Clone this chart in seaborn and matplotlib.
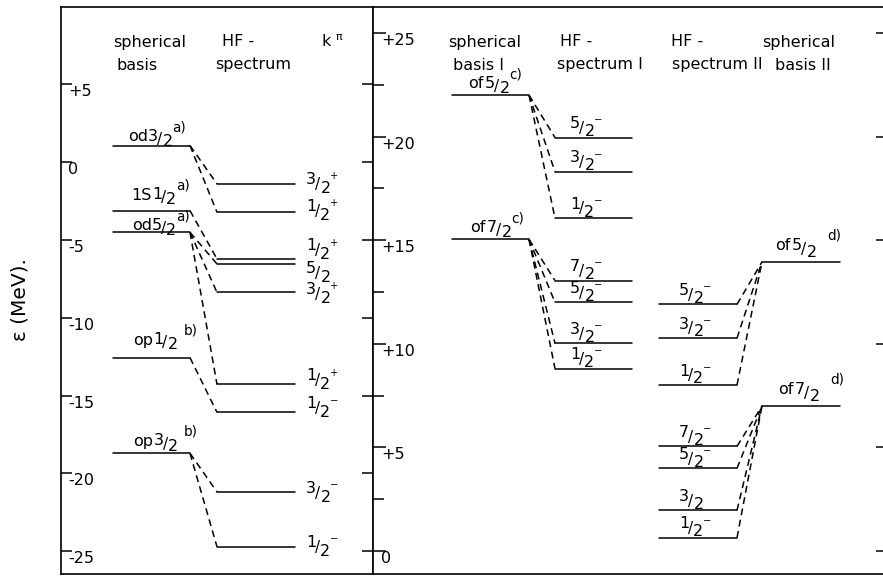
import matplotlib
matplotlib.use("Agg")
import matplotlib.pyplot as plt
import pandas as pd
import seaborn as sns
from matplotlib.textpath import TextPath
from matplotlib.font_manager import FontProperties

# ---------------- data (energies in MeV) ----------------
# left panel: spherical basis -> HF spectrum
left_sph_orb = ["od", "1S", "od", "op", "op"]
left_sph_j = ["3/2", "1/2", "5/2", "1/2", "3/2"]
left_sph_note = ["a)", "a)", "a)", "b)", "b)"]
left_sph_E = [1.05, -3.13, -4.52, -12.57, -18.71]

left_hf_k = ["3/2", "1/2", "1/2", "5/2", "3/2", "1/2", "1/2", "3/2", "1/2"]
left_hf_par = ["+", "+", "+", "", "+", "+", "-", "-", "-"]
left_hf_E = [-1.41, -3.23, -6.23, -6.55, -8.38, -14.28, -16.08, -21.19, -24.71]
left_hf_parent = [0, 0, 1, 2, 2, 2, 3, 4, 4]

# right panel: spherical basis I -> HF spectrum I, HF spectrum II <- spherical basis II
right_sph1_orb = ["of", "of"]
right_sph1_j = ["5/2", "7/2"]
right_sph1_note = ["c)", "c)"]
right_sph1_E = [22.0, 15.04]

right_hf1_k = ["5/2", "3/2", "1/2", "7/2", "5/2", "3/2", "1/2"]
right_hf1_par = ["-", "-", "-", "-", "-", "-", "-"]
right_hf1_E = [19.95, 18.3, 16.06, 13.05, 12.0, 10.02, 8.8]
right_hf1_parent = [0, 0, 0, 1, 1, 1, 1]

right_hf2_k = ["5/2", "3/2", "1/2", "7/2", "5/2", "3/2", "1/2"]
right_hf2_par = ["-", "-", "-", "-", "-", "", "-"]
right_hf2_E = [11.9, 10.27, 8.01, 5.05, 3.99, 1.96, 0.64]
right_hf2_parent = [0, 0, 0, 1, 1, 1, 1]

right_sph2_orb = ["of", "of"]
right_sph2_j = ["5/2", "7/2"]
right_sph2_note = ["d)", "d)"]
right_sph2_E = [13.95, 7.0]

left_ticks = [-25, -20, -15, -10, -5, 0, 5]
left_ticklabels = ["-25", "-20", "-15", "-10", "-5", "0", "+5"]
right_ticks = [0, 5, 10, 15, 20, 25]
right_ticklabels = ["0", "+5", "+10", "+15", "+20", "+25"]
right_minor = [2.5, 7.5, 12.5, 17.5, 22.5]

# ---------------- layout ----------------
W, H = 883, 577
LEFT_COLS = {"sph": (113, 190), "hf": (217, 295)}
RIGHT_COLS = {"sph1": (452, 529), "hf1": (555, 632), "hf2": (659, 737), "sph2": (762, 840)}
left_hf_lab_off = [0.06, 0.15, 0.64, -0.51, -0.03, 0.34, 0.34, 0.0, 0.05]   # MeV shift of label centre
left_sph_lab_x = [128, 131, 132, 133, 133]
left_sph_lab_base = [3.0, 8.0, 1.6, 9.5, 5.5]                            # pt above line

FS = 11.5
FP = FontProperties(family="DejaVu Sans")


def tw(s, fs):
    """ink right edge (pt) of a string"""
    return TextPath((0, 0), s, size=fs, prop=FP).get_extents().x1


def put(ax, x, y, pieces, base):
    for s, dx, dy, fs in pieces:
        ax.annotate(s, (x, y), xytext=(dx, dy + base), textcoords="offset points",
                    fontsize=fs, ha="left", va="baseline", family="DejaVu Sans",
                    color="black")


def frac_pieces(j, sign, x0, num_dy, den_dy, fs=FS):
    n, d = j.split("/")
    sl = x0 + tw(n, fs) + 0.2
    dn = sl + tw("/", fs * 0.95) + 0.2
    p = [(n, x0, num_dy, fs), ("/", sl, (num_dy + den_dy) / 2 - 0.5, fs * 0.95), (d, dn, den_dy, fs)]
    end = dn + tw(d, fs)
    if sign:
        p.append(("+" if sign == "+" else "\u2212", end + 0.6, num_dy + 3.5, fs * 0.62))
    return p, end


def sph_pieces(orb, j, note, num_dy, den_dy, note_dy, gap):
    p = [(orb, 0, 0, FS)]
    fp, end = frac_pieces(j, "", tw(orb, FS) + 1.0, num_dy, den_dy)
    p += fp
    p.append((note, end + gap, note_dy, FS * 0.85))
    return p


def segments(levels, links):
    rows = []
    sid = 0
    for (x0, x1), E in levels:
        for x in (x0, x1):
            rows.append({"x": x, "E": E, "seg": sid, "kind": "level"})
        sid += 1
    for (xa, Ea), (xb, Eb) in links:
        rows.append({"x": xa, "E": Ea, "seg": sid, "kind": "link"})
        rows.append({"x": xb, "E": Eb, "seg": sid, "kind": "link"})
        sid += 1
    return pd.DataFrame(rows)


sns.set_style("ticks")
plt.rcParams["font.family"] = ["DejaVu Sans"]
plt.rcParams["mathtext.fontset"] = "dejavusans"
plt.rcParams["mathtext.default"] = "regular"
plt.rcParams["text.color"] = "black"
plt.rcParams["axes.labelcolor"] = "black"
plt.rcParams["ytick.color"] = "black"

fig = plt.figure(figsize=(W / 100, H / 100), dpi=100)
ax1 = fig.add_axes([61 / W, 3 / H, 312 / W, 567 / H])
ax2 = fig.add_axes([373 / W, 3 / H, 510 / W, 567 / H])
ax1.set_xlim(61, 373)
ax1.set_ylim(-26.46, 9.95)
ax2.set_xlim(373, 883)
ax2.set_ylim(-1.11, 26.25)

dash_map = {"level": "", "link": (4.5, 3)}

# ---- left panel ----
lv = [(LEFT_COLS["sph"], e) for e in left_sph_E] + [(LEFT_COLS["hf"], e) for e in left_hf_E]
lk = [((LEFT_COLS["sph"][1], left_sph_E[p]), (LEFT_COLS["hf"][0], e))
      for p, e in zip(left_hf_parent, left_hf_E)]
df1 = segments(lv, lk)
sns.lineplot(data=df1, x="x", y="E", units="seg", estimator=None, sort=False,
             style="kind", dashes=dash_map, color="black", linewidth=1.1,
             legend=False, ax=ax1)

# ---- right panel ----
rv = ([(RIGHT_COLS["sph1"], e) for e in right_sph1_E] + [(RIGHT_COLS["hf1"], e) for e in right_hf1_E]
      + [(RIGHT_COLS["hf2"], e) for e in right_hf2_E] + [(RIGHT_COLS["sph2"], e) for e in right_sph2_E])
rk = ([((RIGHT_COLS["sph1"][1], right_sph1_E[p]), (RIGHT_COLS["hf1"][0], e))
       for p, e in zip(right_hf1_parent, right_hf1_E)]
      + [((RIGHT_COLS["hf2"][1], e), (RIGHT_COLS["sph2"][0], right_sph2_E[p]))
         for p, e in zip(right_hf2_parent, right_hf2_E)])
df2 = segments(rv, rk)
sns.lineplot(data=df2, x="x", y="E", units="seg", estimator=None, sort=False,
             style="kind", dashes=dash_map, color="black", linewidth=1.1,
             legend=False, ax=ax2)

# ---- level labels ----
for o, j, n, e, x, b in zip(left_sph_orb, left_sph_j, left_sph_note, left_sph_E,
                            left_sph_lab_x, left_sph_lab_base):
    gap = 5.0 if n == "b)" else 1.0
    put(ax1, x, e, sph_pieces(o, j, n, 0.3, -3.5, 7.0, gap), b)
for k, p, e, off in zip(left_hf_k, left_hf_par, left_hf_E, left_hf_lab_off):
    pcs, _ = frac_pieces(k, p, 0, 6.0, 0.0)
    put(ax1, 306, e + off, pcs, -7.0)

for o, j, n, e, x in zip(right_sph1_orb, right_sph1_j, right_sph1_note, right_sph1_E, [468, 470]):
    put(ax2, x, e, sph_pieces(o, j, n, 0.3, -3.5, 7.0, 0.8), 5.0)
for o, j, n, e, x in zip(right_sph2_orb, right_sph2_j, right_sph2_note, right_sph2_E, [775, 778]):
    put(ax2, x, e, sph_pieces(o, j, n, 0.3, -5.0, 7.5, 9.0), 8.5)
for k, p, e in zip(right_hf1_k, right_hf1_par, right_hf1_E):
    pcs, _ = frac_pieces(k, p, 0, 5.5, 0.0)
    put(ax2, 570, e, pcs, 1.2)
for k, p, e in zip(right_hf2_k, right_hf2_par, right_hf2_E):
    pcs, _ = frac_pieces(k, p, 0, 5.5, 0.0)
    put(ax2, 679, e, pcs, 1.2)

# ---- headers ----
r1, r2 = (574 - 42) / 567, (574 - 65) / 567
hdr = [(ax1, 113, r1, "spherical"), (ax1, 116, r2, "basis"),
       (ax1, 222, r1, "HF -"), (ax1, 215, r2, "spectrum"),
       (ax1, 321, r1, r"k $^{\pi}$"),
       (ax2, 448, r1, "spherical"), (ax2, 453, r2, "basis I"),
       (ax2, 560, r1, "HF -"), (ax2, 557, r2, "spectrum I"),
       (ax2, 671, r1, "HF -"), (ax2, 672, r2, "spectrum II"),
       (ax2, 762, r1, "spherical"), (ax2, 775, r2, "basis II")]
for ax, x, y, s in hdr:
    ax.text(x, y, s, fontsize=FS, ha="left", va="center", color="black",
            transform=ax.get_xaxis_transform())

fig.text(20 / W, 1 - 300 / H, "ε (MeV).", rotation=90, fontsize=14.5, ha="center",
         va="center", color="black")

# ---- axes styling ----
for ax in (ax1, ax2):
    ax.set_xticks([])
    ax.set_xlabel("")
    ax.set_ylabel("")
    for s in ax.spines.values():
        s.set_color("black")
        s.set_linewidth(1.2)
ax2.spines["right"].set_visible(False)

ax1.set_yticks(left_ticks)
ax1.set_yticklabels(left_ticklabels)
ax1.tick_params(axis="y", which="major", direction="in", length=8, width=1.1,
                left=True, right=True, labelleft=True, labelright=False,
                pad=-5, labelsize=11.5, colors="black")
plt.setp(ax1.get_yticklabels(), ha="left", va="top")

ax2.set_yticks(right_ticks)
ax2.set_yticklabels(right_ticklabels)
ax2.set_yticks(right_minor, minor=True)
ax2.tick_params(axis="y", which="major", direction="in", length=9, width=1.1,
                left=True, right=True, labelleft=True, labelright=False,
                pad=-6, labelsize=11.5, colors="black")
ax2.tick_params(axis="y", which="minor", direction="in", length=8, width=1.1,
                left=True, right=False, colors="black")
plt.setp(ax2.get_yticklabels(), ha="left", va="top")
for t in ax2.yaxis.get_major_ticks():
    t.tick2line.set_markersize(5)

fig.savefig("out.png", dpi=100)
